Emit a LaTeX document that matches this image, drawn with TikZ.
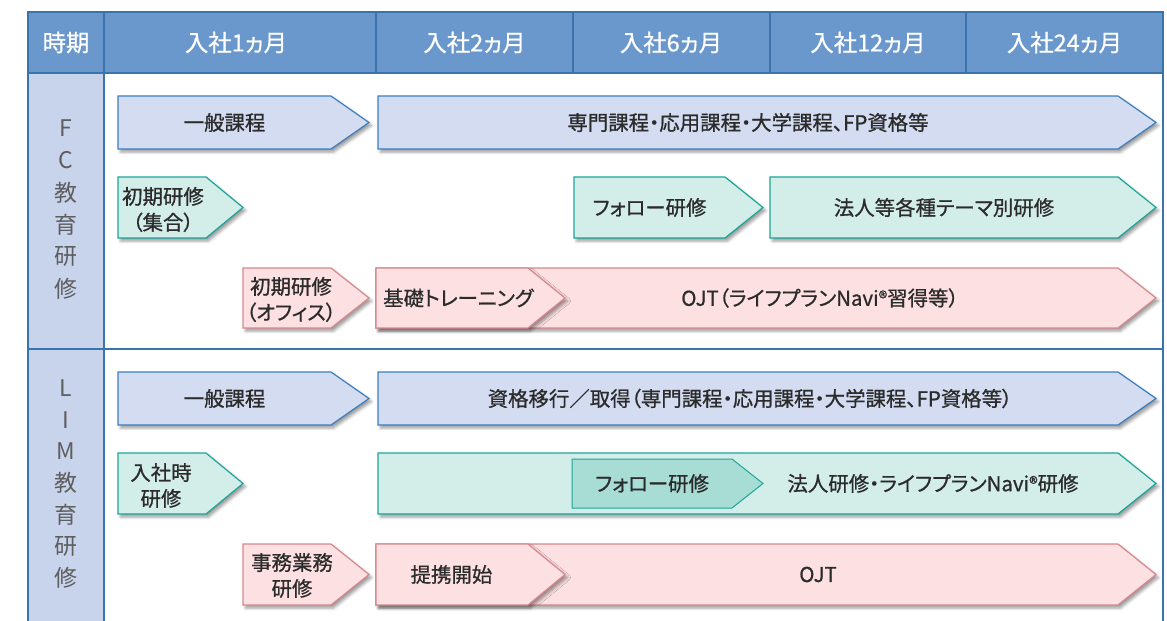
\documentclass[tikz,border=0pt]{standalone}
\usepackage{fontspec}
\setmainfont{Noto Sans CJK JP}[RawFeature=+palt]
\usetikzlibrary{shadows.blur}
\definecolor{hdrfill}{HTML}{6A98CD}
\definecolor{labfill}{HTML}{C8D3EC}
\definecolor{lineblue}{HTML}{3A74AD}
\definecolor{bfill}{HTML}{D3DCF0}
\definecolor{bdraw}{HTML}{3D7EBF}
\definecolor{tfill}{HTML}{D3EDE8}
\definecolor{tdraw}{HTML}{1AA69B}
\definecolor{tinner}{HTML}{A8DDD5}
\definecolor{pfill}{HTML}{FDE0E1}
\definecolor{pdraw}{HTML}{D7878D}
\definecolor{txtc}{HTML}{2B2B2B}
\definecolor{sidec}{HTML}{5E5E5E}
\newcommand\mychev[7]{%
  \path[#1] (#2,#4) -- ({#3-#7},#4) -- (#3,{(#4+#5)/2}) -- ({#3-#7},#5) -- (#2,#5) -- cycle;
  \coordinate (#6) at ({(#2+#3-#7)/2},{(#4+#5)/2});}
\tikzset{
  tline/.style={draw=lineblue, line width=1.5bp},
  shad/.style={blur shadow={shadow xshift=2.5bp, shadow yshift=-3bp, shadow blur radius=3bp, shadow opacity=40}},
  bluearr/.style={fill=bfill, draw=bdraw, line width=1.2bp, shad},
  tealarr/.style={fill=tfill, draw=tdraw, line width=1.2bp, shad},
  tealinner/.style={fill=tinner, draw=tdraw, line width=1bp},
  pinkarr/.style={fill=pfill, draw=pdraw, line width=1.2bp, shad},
  atext/.style={inner sep=0pt, font=\fontsize{20.5}{26}\selectfont\addfontfeature{FakeBold=0.8}, text=txtc, align=center},
  htext/.style={inner sep=0pt, font=\fontsize{23.5}{28}\selectfont\addfontfeature{FakeBold=0.8}, text=white},
  sidechar/.style={inner sep=0pt, font=\fontsize{23}{28}\selectfont, text=sidec},
}
\newcommand\regmark{{\fontsize{18}{18}\selectfont\raisebox{1bp}{®}}}
\begin{document}
\begin{tikzpicture}[x=1bp,y=-1bp]
\useasboundingbox (0,0) rectangle (1167,621);
\begin{scope}
\clip (0,0) rectangle (1167,621);
% table
\fill[hdrfill] (28,12) rectangle (1163,73);
\fill[labfill] (28,73) rectangle (104,640);
\draw[tline] (28,640) -- (28,12) -- (1163,12) -- (1163,640);
\draw[tline] (28,73) -- (1163,73);
\draw[tline] (28,349) -- (1163,349);
\foreach \x in {104,376,573,770,966} \draw[tline] (\x,12) -- (\x,73);
\draw[tline] (104,73) -- (104,640);
% header
\node[htext] (h0) at (66,42.5) {時期};
\node[htext] (h1) at (236,42.5) {入社1ヵ月};
\node[htext] (h2) at (474.5,42.5) {入社2ヵ月};
\node[htext] (h3) at (671,42.5) {入社6ヵ月};
\node[htext] (h4) at (868,42.5) {入社12ヵ月};
\node[htext] (h5) at (1064.5,42.5) {入社24ヵ月};
% side labels
\foreach \c [count=\i] in {F,C,教,育,研,修}
  \node[sidechar] (fc\i) at (66,{128+32.2*(\i-1)}) {\c};
\foreach \c [count=\i] in {L,I,M,教,育,研,修}
  \node[sidechar] (lim\i) at (66,{388+31.7*(\i-1)}) {\c};
% FC rows
\mychev{bluearr}{118}{369}{96}{149}{fa1}{38}
\node[atext] (tfa1) at (fa1) {一般課程};
\mychev{bluearr}{378}{1156}{96}{149}{fa2}{38}
\node[atext] (tfa2) at (fa2) {専門課程・応用課程・大学課程、FP資格等};
\mychev{tealarr}{118}{243}{177}{238}{fb1}{37}
\node[atext] (tfb1) at (163,209.5) {初期研修\\（集合）};
\mychev{tealarr}{574}{763}{177}{238}{fb2}{38}
\node[atext] (tfb2) at (fb2) {フォロー研修};
\mychev{tealarr}{770}{1156}{177}{238}{fb3}{38}
\node[atext] (tfb3) at (fb3) {法人等各種テーマ別研修};
\mychev{pinkarr}{243}{369}{268}{328}{fc1x}{38}
\node[atext] (tfc1) at (291,299.5) {初期研修\\（オフィス）};
\mychev{pinkarr}{376}{1156}{268}{328}{fc3x}{38}
\mychev{pinkarr}{376}{565}{268}{328}{fc2x}{37}
\node[atext, anchor=west] (tfc2) at (383,298) {基礎トレーニング};
\node[atext] (tfc3) at (820,298) {OJT（ライフプランNavi\regmark 習得等）};
% LIM rows
\mychev{bluearr}{118}{369}{372}{425}{la1}{38}
\node[atext] (tla1) at (la1) {一般課程};
\mychev{bluearr}{378}{1156}{372}{425}{la2}{38}
\node[atext] (tla2) at (750,398.5) {資格移行／取得（専門課程・応用課程・大学課程、FP資格等）};
\mychev{tealarr}{118}{243}{453}{514}{lb1}{37}
\node[atext] (tlb1) at (161,485.5) {入社時\\研修};
\mychev{tealarr}{378}{1156}{453}{514}{lb2}{38}
\mychev{tealinner}{572}{763}{459}{508}{lb3}{31}
\node[atext] (tlb3) at (lb3) {フォロー研修};
\node[atext] (tlb2) at (933,483.5) {法人研修・ライフプランNavi\regmark 研修};
\mychev{pinkarr}{243}{369}{544}{605}{lc1}{38}
\node[atext] (tlc1) at (292,575.5) {事務業務\\研修};
\mychev{pinkarr}{376}{1156}{544}{605}{lc3}{38}
\mychev{pinkarr}{376}{565}{544}{605}{lc2}{37}
\node[atext] (tlc2) at (451.5,574.5) {提携開始};
\node[atext] (tlc3) at (818,574.5) {OJT};
\end{scope}
\end{tikzpicture}
\end{document}
